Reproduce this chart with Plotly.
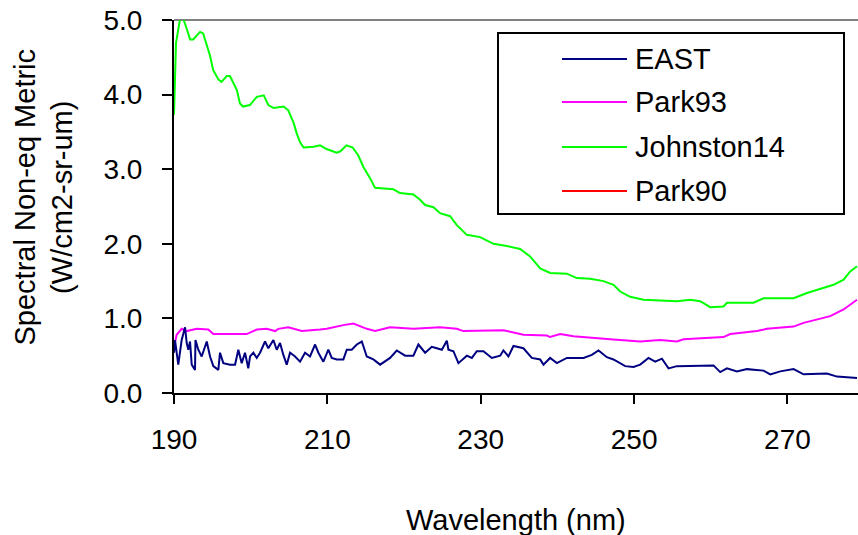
import plotly.graph_objects as go

# ---- data ----
east_wl = [190.0, 190.13, 190.56, 191.0, 191.44, 191.66, 191.87, 192.09, 192.31, 192.74, 192.8, 193.17,
           193.61, 194.27, 194.7, 195.13, 195.78, 196.0, 196.43, 197.31, 197.96, 198.39, 198.83, 199.26,
           199.69, 199.92, 200.35, 200.79, 201.22, 201.87, 202.3, 202.96, 203.4, 203.83, 204.26, 204.7,
           205.13, 205.79, 206.44, 207.09, 207.74, 208.4, 208.83, 209.48, 210.13, 210.57, 211.23, 212.09,
           212.53, 213.18, 213.84, 214.49, 215.14, 216.0, 216.88, 218.18, 219.05, 220.14, 221.22, 221.87,
           222.75, 223.62, 224.27, 224.93, 225.58, 225.79, 226.44, 227.09, 228.19, 228.84, 229.49, 230.35,
           231.45, 232.53, 232.96, 233.61, 234.27, 235.57, 236.66, 237.75, 238.18, 239.05, 239.93, 241.23,
           243.4, 244.49, 245.36, 246.45, 247.31, 248.84, 249.92, 250.8, 251.88, 252.75, 253.63, 254.49,
           255.58, 258.19, 260.36, 261.23, 262.11, 263.41, 264.72, 266.88, 267.76, 269.06, 270.8, 272.1,
           275.15, 276.46, 278.19, 279.07]
east_val = [0.54, 0.71, 0.38, 0.71, 0.88, 0.67, 0.58, 0.69, 0.38, 0.31, 0.71, 0.58,
            0.49, 0.69, 0.49, 0.36, 0.31, 0.54, 0.40, 0.38, 0.38, 0.58, 0.40, 0.54,
            0.33, 0.49, 0.54, 0.47, 0.54, 0.69, 0.60, 0.71, 0.58, 0.67, 0.51, 0.38,
            0.54, 0.49, 0.42, 0.54, 0.49, 0.65, 0.54, 0.42, 0.58, 0.47, 0.45, 0.45,
            0.58, 0.58, 0.65, 0.69, 0.49, 0.45, 0.38, 0.47, 0.57, 0.50, 0.50, 0.65,
            0.54, 0.62, 0.60, 0.58, 0.70, 0.58, 0.56, 0.40, 0.50, 0.47, 0.56, 0.56,
            0.47, 0.50, 0.57, 0.49, 0.63, 0.60, 0.47, 0.45, 0.38, 0.47, 0.40, 0.47,
            0.47, 0.51, 0.57, 0.48, 0.45, 0.36, 0.35, 0.38, 0.47, 0.42, 0.46, 0.33,
            0.36, 0.36, 0.37, 0.28, 0.33, 0.29, 0.32, 0.30, 0.25, 0.29, 0.32, 0.25,
            0.26, 0.22, 0.21, 0.20]

park93_wl = [190.0, 190.35, 191.0, 191.66, 192.96, 194.47, 195.13, 199.48, 200.79, 202.09, 203.18,
             203.61, 204.91, 206.66, 209.05, 209.92, 212.09, 213.39, 215.14, 216.22, 218.18, 221.22,
             224.7, 226.88, 227.74, 232.96, 233.41, 235.57, 238.62, 239.05, 240.36, 242.09, 246.88,
             250.8, 253.41, 255.58, 256.45, 261.66, 262.54, 266.02, 267.32, 270.8, 272.1, 273.84,
             275.58, 277.32, 278.19, 279.07]
park93_val = [0.62, 0.78, 0.86, 0.83, 0.86, 0.85, 0.79, 0.79, 0.85, 0.86, 0.83,
              0.86, 0.88, 0.83, 0.85, 0.86, 0.91, 0.93, 0.86, 0.83, 0.88, 0.86,
              0.88, 0.86, 0.83, 0.84, 0.83, 0.78, 0.77, 0.75, 0.79, 0.76, 0.72,
              0.69, 0.71, 0.69, 0.72, 0.75, 0.79, 0.83, 0.86, 0.89, 0.94, 0.98,
              1.03, 1.12, 1.18, 1.25]

johnston14_wl = [190.0, 190.26, 190.8, 191.2, 191.7, 192.1, 192.5, 193.4, 193.8, 194.7, 195.1, 195.8,
                 196.2, 196.9, 197.3, 197.7, 198.2, 198.6, 199.0, 199.9, 200.8, 201.7, 202.3, 203.0,
                 204.3, 204.9, 205.6, 206.0, 206.44, 206.9, 208.2, 209.05, 209.9, 211.2, 211.7, 212.5,
                 213.3, 214.0, 214.7, 215.57, 216.22, 218.61, 219.48, 221.22, 222.09, 222.75, 223.83,
                 224.7, 226.01, 226.88, 228.19, 229.92, 231.66, 233.41, 235.14, 236.44, 237.75, 239.05,
                 241.23, 242.54, 244.27, 246.01, 247.31, 248.19, 249.49, 251.23, 255.58, 257.32, 258.62,
                 259.93, 261.66, 262.11, 265.58, 266.88, 270.8, 272.55, 274.28, 276.01, 277.32, 278.19,
                 279.07]
johnston14_val = [3.73, 4.69, 5.02, 5.02, 4.87, 4.74, 4.74, 4.84, 4.82, 4.52, 4.33, 4.20,
                  4.17, 4.25, 4.25, 4.17, 4.06, 3.88, 3.84, 3.86, 3.97, 3.99, 3.86, 3.82,
                  3.84, 3.79, 3.62, 3.48, 3.36, 3.29, 3.30, 3.32, 3.27, 3.22, 3.24, 3.32,
                  3.29, 3.19, 3.03, 2.88, 2.75, 2.73, 2.68, 2.66, 2.59, 2.52, 2.49,
                  2.41, 2.37, 2.25, 2.12, 2.09, 2.00, 1.97, 1.93, 1.83, 1.67, 1.61,
                  1.60, 1.54, 1.53, 1.50, 1.45, 1.36, 1.29, 1.25, 1.23, 1.25, 1.23,
                  1.15, 1.16, 1.21, 1.21, 1.27, 1.27, 1.34, 1.39, 1.45, 1.52, 1.63,
                  1.70]

park90_wl = []   # not visible within the plotted range
park90_val = []

series_names = ["EAST", "Park93", "Johnston14", "Park90"]
series_colors = ["#000080", "#FF00FF", "#00FF00", "#FF0000"]
series_x = [east_wl, park93_wl, johnston14_wl, park90_wl]
series_y = [east_val, park93_val, johnston14_val, park90_val]

x_ticks = [190, 210, 230, 250, 270]
y_ticks = [0.0, 1.0, 2.0, 3.0, 4.0, 5.0]

FONT = "Liberation Sans, Arial, sans-serif"

fig = go.Figure()
# draw in reverse so EAST is on top
for name, col, xs, ys in reversed(list(zip(series_names, series_colors, series_x, series_y))):
    fig.add_trace(go.Scatter(x=xs, y=ys, mode="lines", name=name,
                             line=dict(color=col, width=2), showlegend=False))

fig.update_layout(
    width=858, height=535,
    margin=dict(l=174, r=0, t=20, b=142),
    paper_bgcolor="white", plot_bgcolor="white",
    font=dict(family=FONT, size=28, color="black"),
    showlegend=False,
)
fig.update_xaxes(range=[190, 279.2], tickvals=x_ticks, ticktext=[str(v) for v in x_ticks],
                 showline=True, linecolor="black", linewidth=2, ticks="outside", ticklen=9,
                 tickwidth=2, tickcolor="black", showgrid=False, zeroline=False,
                 tickfont=dict(family=FONT, size=28), ticklabelstandoff=11)
fig.update_yaxes(range=[0, 5.0], tickvals=y_ticks, ticktext=[f"{v:.1f}" for v in y_ticks],
                 showline=True, linecolor="black", linewidth=2, ticks="outside", ticklen=10,
                 tickwidth=2, tickcolor="black", showgrid=False, zeroline=False,
                 tickfont=dict(family=FONT, size=28), ticklabelstandoff=14)

shapes = [dict(type="line", xref="paper", yref="paper", x0=0, x1=1, y0=1, y1=1,
               line=dict(color="#808080", width=2), layer="below")]
annotations = []

# legend box (manual, to match original layout)
W, H = 684.0, 373.0
def px_x(p):
    return (p - 174) / W
def px_y(p):
    return (393 - p) / H

shapes.append(dict(type="rect", xref="paper", yref="paper",
                   x0=px_x(498), x1=px_x(844), y0=px_y(214), y1=px_y(33),
                   line=dict(color="black", width=2), fillcolor="white", layer="above"))
legend_rows = [59, 102, 147, 191]
for name, col, ry in zip(series_names, series_colors, legend_rows):
    shapes.append(dict(type="line", xref="paper", yref="paper",
                       x0=px_x(562), x1=px_x(627), y0=px_y(ry), y1=px_y(ry),
                       line=dict(color=col, width=2), layer="above"))
    annotations.append(dict(text=name, xref="paper", yref="paper", x=px_x(633), y=px_y(ry),
                            xanchor="left", yanchor="middle", showarrow=False,
                            font=dict(family=FONT, size=29, color="black")))

annotations.append(dict(text="Wavelength (nm)", xref="paper", yref="paper", x=0.5, y=0,
                        yshift=-127, xanchor="center", yanchor="middle", showarrow=False,
                        font=dict(family=FONT, size=29, color="black")))
annotations.append(dict(text="Spectral Non-eq Metric<br>(W/cm2-sr-um)", xref="paper", yref="paper",
                        x=0, y=0.5, xshift=-131, yshift=9, textangle=-90,
                        xanchor="center", yanchor="middle", showarrow=False,
                        font=dict(family=FONT, size=29, color="black")))

fig.update_layout(shapes=shapes, annotations=annotations)
fig.write_html("out.html")
